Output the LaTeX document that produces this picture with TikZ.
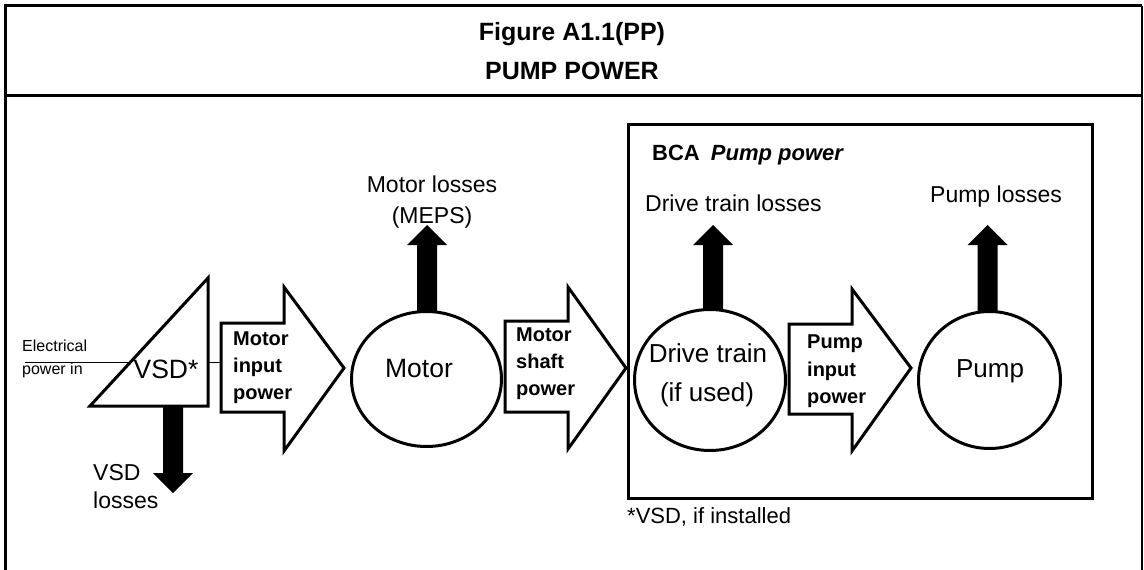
\documentclass[tikz,border=0pt]{standalone}
\usepackage{fontspec}
\setmainfont{Liberation Sans}
\usetikzlibrary{shapes.geometric}
\begin{document}
\begin{tikzpicture}[x=1pt,y=-1pt,
  fs/.style={font=\fontsize{#1}{#1}\selectfont},
  lbl/.style={inner sep=0pt, anchor=base west},
  clbl/.style={inner sep=0pt, anchor=base},
  blk/.style={draw, line width=3pt, fill=white, line join=miter},
  loss/.style={fill=black},
  circ/.style={draw, ellipse, line width=3pt, fill=white, inner sep=0pt},
  thin/.style={line width=1pt}]
\useasboundingbox (0,0) rectangle (1144,570);
\fill[white] (0,0) rectangle (1144,570);
% outer frame
\draw[line width=3pt] (5.5,570) -- (5.5,5.5) -- (1142,5.5);
\draw[line width=1.5pt] (1142,5.5) -- (1142,570);
\draw[line width=3pt] (5.5,95) -- (1142,95);
% header
\node[clbl, fs=25] (fig) at (572,40) {\bfseries Figure A1.1(PP)};
\node[clbl, fs=25] (title) at (572,79) {\bfseries PUMP POWER};
% BCA box
\draw[line width=3pt] (628,124) rectangle (1092,498);
\node[lbl, fs=22] (bca) at (652,160) {\bfseries BCA\hspace{5pt} \itshape Pump power};
\node[lbl, fs=22] (note) at (627,523) {*VSD, if installed};
% loss arrows
\fill[loss] (163,405) -- (183,405) -- (183,473) -- (193,473) -- (173,493) -- (153,473) -- (163,473) -- cycle;
\fill[loss] (417,315) -- (417,245) -- (407,245) -- (427,225) -- (447,245) -- (437,245) -- (437,315) -- cycle;
\fill[loss] (703,315) -- (703,245) -- (693,245) -- (713,225) -- (733,245) -- (723,245) -- (723,315) -- cycle;
\fill[loss] (977.5,315) -- (977.5,245) -- (967.5,245) -- (987.5,225) -- (1007.5,245) -- (997.5,245) -- (997.5,315) -- cycle;
% circles
\node[circ, minimum width=150pt, minimum height=135pt] (motor) at (426.5,379) {};
\node[circ, minimum width=151pt, minimum height=141pt] (drive) at (710,380) {};
\node[circ, minimum width=142pt, minimum height=137pt] (pump) at (989.5,380) {};
% VSD triangle
\draw[line width=3pt, line join=miter, fill=white] (208,278) -- (208,406) -- (90,406) -- cycle;
\coordinate (ein) at (25,362);
\coordinate (vsdL) at (130,362);
\coordinate (vsdR) at (208,362);
\coordinate (mipL) at (221,362);
\draw[thin] (ein) -- (vsdL);
\draw[thin] (vsdR) -- (mipL);
\node[lbl, fs=16] (elec1) at (22,351) {Electrical};
\node[lbl, fs=16] (elec2) at (22,374) {power in};
\node[clbl, fs=26.5] (vsd) at (166,378) {VSD*};
% block arrows
\draw[blk] (221,323) -- (284,323) -- (284,287) -- (344,368) -- (284,451) -- (284,412) -- (221,412) -- cycle;
\draw[blk] (505,321) -- (568,321) -- (568,287) -- (626,368) -- (568,449) -- (568,412) -- (505,412) -- cycle;
\draw[blk] (789,324) -- (852,324) -- (852,289) -- (911,368) -- (852,451) -- (852,414) -- (789,414) -- cycle;
% arrow labels
\node[lbl, fs=20] (mip1) at (233,345) {\bfseries Motor};
\node[lbl, fs=20] (mip2) at (233,372) {\bfseries input};
\node[lbl, fs=20] (mip3) at (233,399) {\bfseries power};
\node[lbl, fs=20] (msp1) at (516,341) {\bfseries Motor};
\node[lbl, fs=20] (msp2) at (516,368) {\bfseries shaft};
\node[lbl, fs=20] (msp3) at (516,395) {\bfseries power};
\node[lbl, fs=20] (pip1) at (807,348) {\bfseries Pump};
\node[lbl, fs=20] (pip2) at (807,376) {\bfseries input};
\node[lbl, fs=20] (pip3) at (807,403) {\bfseries power};
% circle labels
\node[clbl, fs=26.5] (motorT) at (419,377) {Motor};
\node[clbl, fs=26] (driveT1) at (708,362) {Drive train};
\node[clbl, fs=26] (driveT2) at (707,401) {(if used)};
\node[clbl, fs=26] (pumpT) at (990,377) {Pump};
% loss labels
\node[lbl, fs=23] (vl1) at (93,480) {VSD};
\node[lbl, fs=23] (vl2) at (93,508) {losses};
\node[clbl, fs=23] (ml1) at (432,192) {Motor losses};
\node[clbl, fs=23] (ml2) at (432,223) {(MEPS)};
\node[lbl, fs=23] (dl) at (645,211) {Drive train losses};
\node[lbl, fs=23] (pl) at (930,202) {Pump losses};
\end{tikzpicture}
\end{document}
